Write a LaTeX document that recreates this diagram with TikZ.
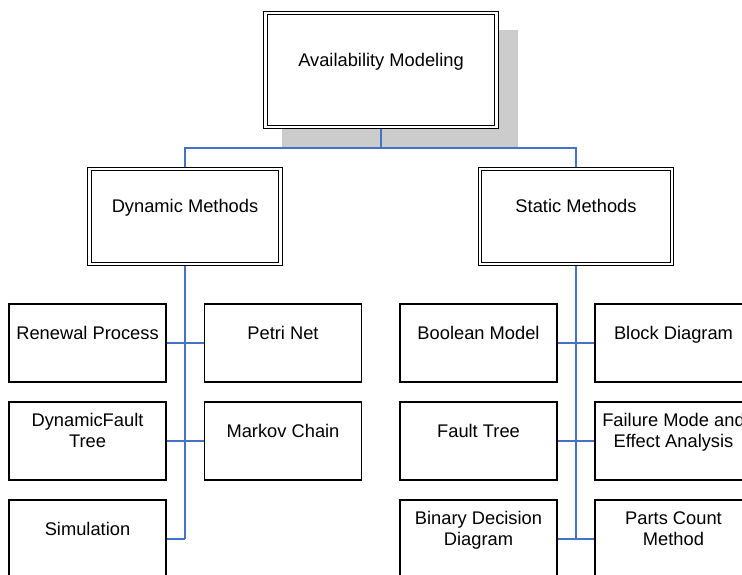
\documentclass[tikz,border=0pt]{standalone}
\usepackage{fontspec}
\setmainfont{Liberation Sans}
\usetikzlibrary{backgrounds}
\definecolor{linkblue}{RGB}{68,114,196}
\definecolor{shadowgray}{RGB}{204,204,204}
\begin{document}
\begin{tikzpicture}[x=1bp,y=-1bp,
  every node/.style={font=\fontsize{18.3bp}{21bp}\selectfont, align=center, inner sep=0pt},
  leaf/.style={draw, line width=1.1bp, fill=white, minimum width=157bp, minimum height=78bp},
  headbox/.style={draw, line width=1bp, double, double distance=2.2bp, fill=white},
  link/.style={draw=linkblue, line width=1.4bp},
  trunk/.style={draw=linkblue, line width=1.8bp}]
\path[use as bounding box] (0,0) rectangle (742,575);
\clip (0,0) rectangle (742,575);

% root and the two method families
\node[headbox, minimum width=231bp, minimum height=114bp] (top) at (381,70) {Availability Modeling\\\mbox{}};
\node[headbox, minimum width=191bp, minimum height=95bp] (dyn) at (185,216.5) {Dynamic Methods\\\mbox{}};
\node[headbox, minimum width=192bp, minimum height=95bp] (stat) at (576,216.5) {Static Methods\\\mbox{}};

% dynamic methods
\node[leaf] (ren) at (87.5,343) {Renewal Process\\\mbox{}};
\node[leaf] (pet) at (283,343) {Petri Net\\\mbox{}};
\node[leaf] (dft) at (87.5,441) {DynamicFault\\Tree\\\mbox{}};
\node[leaf] (mkv) at (283,441) {Markov Chain\\\mbox{}};
\node[leaf] (sim) at (87.5,539) {Simulation\\\mbox{}};

% static methods
\node[leaf] (bool) at (478.5,343) {Boolean Model\\\mbox{}};
\node[leaf] (blk) at (673.5,343) {Block Diagram\\\mbox{}};
\node[leaf] (ft) at (478.5,441) {Fault Tree\\\mbox{}};
\node[leaf] (fmea) at (673.5,441) {Failure Mode and\\Effect Analysis\\\mbox{}};
\node[leaf] (bdd) at (478.5,539) {Binary Decision\\Diagram\\\mbox{}};
\node[leaf] (pcm) at (673.5,539) {Parts Count\\Method\\\mbox{}};

\begin{scope}[on background layer]
  % drop shadow of the root box
  \fill[shadowgray] (282,30) rectangle (518,147);
  \coordinate (hub) at (381,148);
  \draw[link] (top.south) -- (hub);
  \draw[link] (dyn.north) -- (dyn.north |- hub) -- (stat.north |- hub) -- (stat.north);
  % dynamic trunk
  \draw[trunk] (dyn.south) -- (dyn.south |- sim.east);
  \draw[link] (dyn.south |- sim.east) -- (sim.east);
  \draw[link] (ren.east) -- (pet.west);
  \draw[link] (dft.east) -- (mkv.west);
  % static trunk
  \draw[trunk] (stat.south) -- (stat.south |- bdd.east);
  \draw[link] (bool.east) -- (blk.west);
  \draw[link] (ft.east) -- (fmea.west);
  \draw[link] (bdd.east) -- (pcm.west);
\end{scope}
\end{tikzpicture}
\end{document}
